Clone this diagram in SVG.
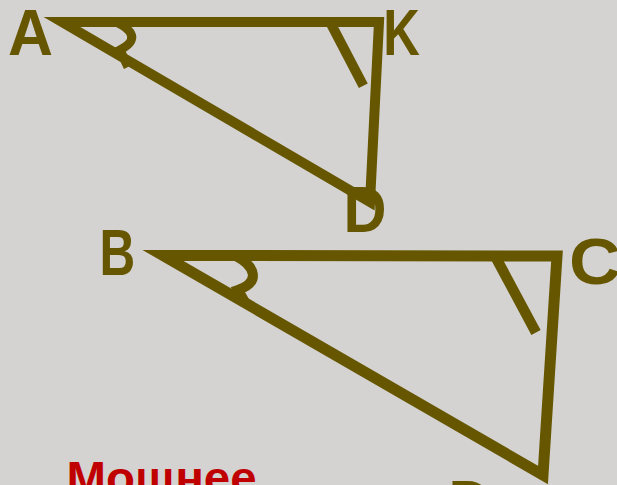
<svg xmlns="http://www.w3.org/2000/svg" width="617" height="485" viewBox="0 0 617 485">
  <style>
    .fig { fill: none; stroke: #665600; stroke-linejoin: miter; stroke-linecap: butt; stroke-miterlimit: 10; }
    .lbl { font-family: "Liberation Sans", Arial, sans-serif; font-weight: bold; font-size: 64px; fill: #665600; }
    .cap { font-family: "Liberation Sans", Arial, sans-serif; font-weight: bold; font-size: 46px; fill: #c00000; }
  </style>
  <rect x="0" y="0" width="617" height="485" fill="#d4d3d1"/>

  <g id="triangle-AKD">
    <polygon class="fig" stroke-width="10" points="62,22 379,22 370,202"/>
    <path class="fig" stroke-width="9" d="M116,22 C133,30 139,40 120,50 L128,67"/>
    <path class="fig" stroke-width="10" d="M330,22 L363.3,85.8"/>
  </g>

  <g id="triangle-BCE">
    <polygon class="fig" stroke-width="11" points="163,255.5 557,256 543,475"/>
    <path class="fig" stroke-width="10" d="M236,256 C255,266 261,282 238,290 L246,304"/>
    <path class="fig" stroke-width="10.5" d="M495,256 L536,332.5"/>
  </g>

  <g id="labels">
    <text class="lbl" x="8" y="55" textLength="45" lengthAdjust="spacingAndGlyphs">A</text>
    <text class="lbl" x="383.3" y="55" textLength="36.6" lengthAdjust="spacingAndGlyphs">K</text>
    <text class="lbl" x="343.6" y="232" textLength="43" lengthAdjust="spacingAndGlyphs">D</text>
    <text class="lbl" x="99.4" y="275" textLength="35.7" lengthAdjust="spacingAndGlyphs">B</text>
    <text class="lbl" x="569" y="284" textLength="51.7" lengthAdjust="spacingAndGlyphs">C</text>
    <text class="lbl" x="448.6" y="526" textLength="43" lengthAdjust="spacingAndGlyphs">D</text>
  </g>

  <g id="caption">
    <text class="cap" x="66.6" y="494" textLength="190" lengthAdjust="spacingAndGlyphs">Мощнее</text>
  </g>
</svg>
